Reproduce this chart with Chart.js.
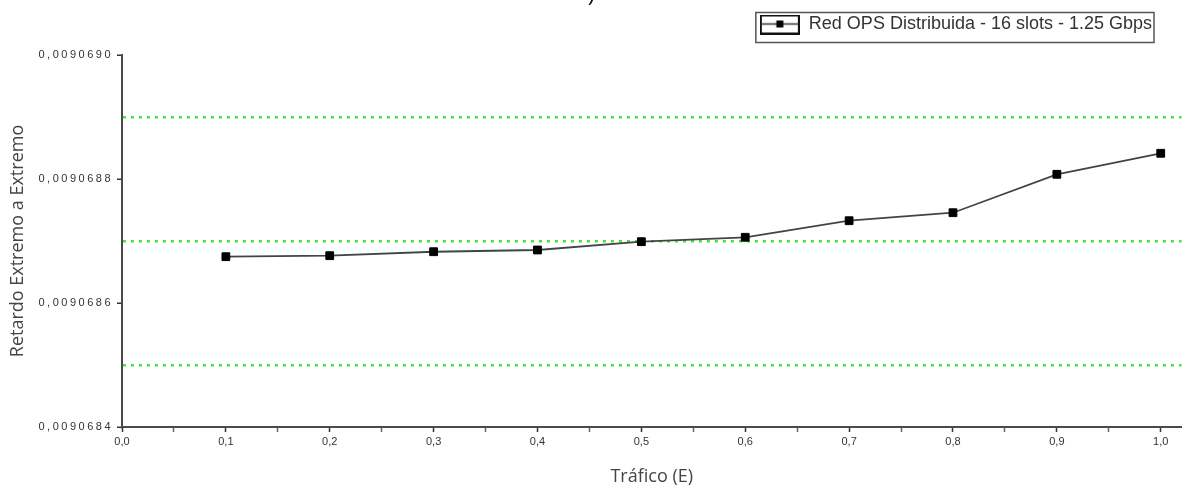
<!DOCTYPE html>
<html><head><meta charset="utf-8">
<script src="https://cdn.jsdelivr.net/npm/chart.js@4.4.1/dist/chart.umd.min.js"></script>
<style>html,body{margin:0;padding:0;background:#fff;}#wrap{width:1188px;height:492px;}</style>
</head><body><div id="wrap"><canvas id="c" width="1188" height="492"></canvas></div>
<script>
// ---- data ----
const trafico = [0.1, 0.2, 0.3, 0.4, 0.5, 0.6, 0.7, 0.8, 0.9, 1.0];
const retardo = [0.0090686747, 0.0090686763, 0.0090686827, 0.0090686855, 0.0090686989,
                 0.0090687060, 0.0090687327, 0.0090687456, 0.0090688076, 0.0090688415];
const seriesLabel = 'Red OPS Distribuida - 16 slots - 1.25 Gbps';
const xTickValues = [0, 0.05, 0.1, 0.15, 0.2, 0.25, 0.3, 0.35, 0.4, 0.45, 0.5,
                     0.55, 0.6, 0.65, 0.7, 0.75, 0.8, 0.85, 0.9, 0.95, 1.0];
const xTickLabels = ['0,0', '', '0,1', '', '0,2', '', '0,3', '', '0,4', '', '0,5',
                     '', '0,6', '', '0,7', '', '0,8', '', '0,9', '', '1,0'];
const yTickValues = [0.0090684, 0.0090685, 0.0090686, 0.0090687, 0.0090688, 0.0090689, 0.0090690];
const yTickLabels = ['0,0090684', '', '0,0090686', '', '0,0090688', '', '0,0090690'];
const xTitle = 'Tráfico (E)';
const yTitle = 'Retardo Extremo a Extremo';
const topFragment = ')';

// legend symbol (line + square marker inside a framed box)
const sym = document.createElement('canvas');
sym.width = 40; sym.height = 20;
(function () {
  const g = sym.getContext('2d');
  g.strokeStyle = '#111'; g.lineWidth = 2; g.strokeRect(1, 1, 38, 18);
  g.strokeStyle = '#333'; g.lineWidth = 1.5;
  g.beginPath(); g.moveTo(1, 9.5); g.lineTo(39, 9.5); g.stroke();
  g.fillStyle = '#000'; g.fillRect(16.5, 6, 7, 7);
})();

const tweaks = {
  id: 'tweaks',
  beforeDraw(chart) { chart.ctx.letterSpacing = '0px'; },
  afterDatasetsDraw(chart) { chart.ctx.letterSpacing = '2.5px'; },
  afterDraw(chart) {
    const ctx = chart.ctx;
    ctx.letterSpacing = '0px';
    const lg = chart.legend;
    const hb = lg && lg.legendHitBoxes && lg.legendHitBoxes[0];
    if (hb) {
      ctx.save();
      ctx.strokeStyle = '#555';
      ctx.lineWidth = 1.5;
      ctx.strokeRect(hb.left - 4, hb.top - 3, hb.width + 6, hb.height + 12);
      ctx.restore();
    }
  }
};

new Chart(document.getElementById('c'), {
  type: 'line',
  data: {
    datasets: [{
      label: seriesLabel,
      data: trafico.map((x, i) => ({ x: x, y: retardo[i] })),
      borderColor: '#444',
      borderWidth: 1.8,
      pointStyle: 'rect',
      pointRadius: 5.5,
      pointBackgroundColor: '#000',
      pointBorderColor: '#000',
      pointBorderWidth: 1,
      tension: 0,
      fill: false
    }]
  },
  options: {
    responsive: false,
    animation: false,
    devicePixelRatio: 1,
    layout: { padding: { top: -40, left: 0, right: 5, bottom: 0 } },
    plugins: {
      title: {
        display: true, text: topFragment, color: '#000', weight: 2000,
        font: { family: 'Liberation Sans', size: 20, weight: 'normal' },
        padding: { top: 23, bottom: -22.5 }
      },
      subtitle: {
        display: true, text: '', weight: 500,
        font: { size: 10 }, padding: { top: 0, bottom: -0.5 }
      },
      legend: {
        display: true, position: 'top', align: 'end',
        labels: {
          usePointStyle: true, pointStyle: sym, pointStyleWidth: 40,
          padding: 31, color: '#333',
          font: { family: 'Liberation Sans', size: 18 }
        }
      },
      tooltip: { enabled: false }
    },
    scales: {
      x: {
        type: 'linear', min: 0, max: 1.02,
        afterBuildTicks: s => { s.ticks = xTickValues.map(v => ({ value: v })); },
        afterFit: s => { s.height = 65; },
        grid: {
          drawOnChartArea: false, drawTicks: true, tickLength: 5, tickWidth: 1.5,
          tickColor: c => (xTickLabels[c.index] ? '#333' : '#666')
        },
        border: { display: true, color: '#4a4a4a', width: 2 },
        ticks: {
          autoSkip: false, maxRotation: 0, minRotation: 0, padding: 3, color: '#333',
          font: { family: 'Liberation Sans', size: 11 },
          callback: (v, i) => xTickLabels[i]
        },
        title: {
          display: true, text: xTitle, color: '#444',
          font: { family: 'Open Sans', size: 18 },
          padding: { top: 0, bottom: 4 }
        }
      },
      y: {
        type: 'linear', min: yTickValues[0], max: yTickValues[yTickValues.length - 1],
        afterBuildTicks: s => { s.ticks = yTickValues.map(v => ({ value: v })); },
        afterFit: s => { s.width = 122; },
        grid: {
          color: c => (yTickLabels[c.index] === '' ? '#3ee83e' : 'rgba(0,0,0,0)'),
          lineWidth: 2.5, drawTicks: true, tickLength: 5, tickWidth: 1.5,
          tickColor: c => (yTickLabels[c.index] === '' ? 'rgba(0,0,0,0)' : '#333')
        },
        border: { display: true, color: '#4a4a4a', width: 2, dash: [3, 5] },
        ticks: {
          z: 1, autoSkip: false, padding: 4, color: '#333',
          font: { family: 'Liberation Sans', size: 11 },
          callback: (v, i) => yTickLabels[i]
        },
        title: {
          display: true, text: yTitle, color: '#444',
          font: { family: 'Open Sans', size: 18 },
          padding: { top: 7.5, bottom: 0 }
        }
      }
    }
  },
  plugins: [tweaks]
});
</script>
</body></html>
